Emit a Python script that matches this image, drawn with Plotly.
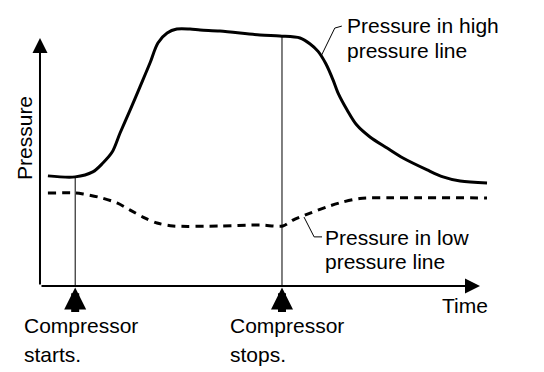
import plotly.graph_objects as go

# Time axis: 0..100 (arbitrary units), Pressure axis: 0..100 (arbitrary units)
t_high = [1.8, 8.0, 12.0, 14.3, 16.4, 18.2, 20.5, 22.7, 25.0, 26.8, 28.9, 31.1, 34.1,
          36.4, 40.9, 50.0, 54.5, 59.1, 61.4, 63.2, 65.0, 66.6, 67.7, 69.8, 72.0, 75.0,
          78.9, 82.5, 88.0, 91.6, 95.5, 101.6]
p_high = [44.4, 44.0, 46.0, 49.6, 54.0, 61.7, 71.0, 80.2, 89.9, 98.0, 102.0, 103.6, 103.6,
          103.2, 102.8, 101.2, 100.8, 100.0, 97.6, 94.6, 89.5, 83.1, 78.0, 71.0, 64.9, 60.1,
          55.6, 51.6, 46.8, 44.0, 42.3, 41.5]

t_low = [1.8, 8.0, 9.8, 13.2, 17.5, 20.5, 23.4, 26.6, 30.2, 40.9, 50.0, 55.2, 57.5, 61.4,
         65.2, 68.9, 72.7, 80.0, 101.6]
p_low = [37.5, 37.5, 37.1, 35.9, 33.5, 30.6, 27.8, 25.4, 24.2, 24.2, 24.6, 24.2, 26.6, 29.4,
         31.9, 33.9, 35.3, 35.6, 35.5]

# Compressor events
event_times = [8.0, 55.0]
event_tops = [44.0, 101.2]
event_labels = [["Compressor", "starts."], ["Compressor", "stops."]]

# Callout leader lines
lead_high_t = [64.0, 67.0, 68.6]
lead_high_p = [93.1, 104.0, 104.8]
lead_low_t = [60.0, 62.3, 64.1]
lead_low_p = [27.8, 19.8, 19.8]
label_high = ["Pressure in high", "pressure line"]
label_low = ["Pressure in low", "pressure line"]

axis_title_x = "Time"
axis_title_y = "Pressure"

FONT = dict(family="Liberation Sans, Arial, sans-serif", size=21, color="black")

fig = go.Figure()

fig.add_trace(go.Scatter(x=t_high, y=p_high, mode="lines",
                         line=dict(color="black", width=3, shape="spline", smoothing=0.9),
                         hoverinfo="skip"))
fig.add_trace(go.Scatter(x=t_low, y=p_low, mode="lines",
                         line=dict(color="black", width=3, shape="spline", smoothing=0.8,
                                   dash="8px,6px"),
                         hoverinfo="skip"))

for tx, top in zip(event_times, event_tops):
    fig.add_trace(go.Scatter(x=[tx, tx], y=[0, top], mode="lines",
                             line=dict(color="black", width=1), hoverinfo="skip"))

fig.add_trace(go.Scatter(x=lead_high_t, y=lead_high_p, mode="lines",
                         line=dict(color="black", width=1), hoverinfo="skip"))
fig.add_trace(go.Scatter(x=lead_low_t, y=lead_low_p, mode="lines",
                         line=dict(color="black", width=1), hoverinfo="skip"))

annotations = []
# axes with arrowheads
annotations.append(dict(x=0, y=100, ax=0, ay=0, xref="x", yref="y", axref="x", ayref="y",
                        text="", showarrow=True, arrowhead=2, arrowwidth=2, arrowsize=1.5,
                        arrowcolor="black", standoff=0))
annotations.append(dict(x=100, y=0, ax=0, ay=0, xref="x", yref="y", axref="x", ayref="y",
                        text="", showarrow=True, arrowhead=2, arrowwidth=2, arrowsize=1.5,
                        arrowcolor="black", standoff=0))
# compressor arrows under the axis: head + shaft
for tx in event_times:
    annotations.append(dict(x=tx, y=-0.6, ax=0, ay=16, xref="x", yref="y",
                            text="", showarrow=True, arrowhead=2, arrowwidth=8,
                            arrowsize=0.55, arrowcolor="black", standoff=0))
    annotations.append(dict(x=tx, y=-5.0, ax=0, ay=15, xref="x", yref="y",
                            text="", showarrow=True, arrowhead=0, arrowwidth=8,
                            arrowcolor="black", standoff=0))

label_x = [-4.1, 42.7]
for lx, lines in zip(label_x, event_labels):
    annotations.append(dict(x=lx, y=-15.9, xref="x", yref="y", text=lines[0],
                            showarrow=False, xanchor="left", yanchor="middle", font=FONT))
    annotations.append(dict(x=lx, y=-27.6, xref="x", yref="y", text=lines[1],
                            showarrow=False, xanchor="left", yanchor="middle", font=FONT))

annotations.append(dict(x=91.0, y=-7.9, xref="x", yref="y", text=axis_title_x,
                        showarrow=False, xanchor="left", yanchor="middle", font=FONT))
annotations.append(dict(x=-3.4, y=59.7, xref="x", yref="y", text=axis_title_y, textangle=-90,
                        showarrow=False, xanchor="center", yanchor="middle", font=FONT))

annotations.append(dict(x=69.3, y=105.2, xref="x", yref="y", text=label_high[0],
                        showarrow=False, xanchor="left", yanchor="middle", font=FONT))
annotations.append(dict(x=69.3, y=95.0, xref="x", yref="y", text=label_high[1],
                        showarrow=False, xanchor="left", yanchor="middle", font=FONT))
annotations.append(dict(x=64.3, y=19.6, xref="x", yref="y", text=label_low[0],
                        showarrow=False, xanchor="left", yanchor="middle", font=FONT))
annotations.append(dict(x=64.3, y=9.9, xref="x", yref="y", text=label_low[1],
                        showarrow=False, xanchor="left", yanchor="middle", font=FONT))

fig.update_layout(
    width=544, height=372,
    margin=dict(l=0, r=0, t=0, b=0),
    paper_bgcolor="white", plot_bgcolor="white",
    showlegend=False,
    xaxis=dict(range=[-9.09, 114.55], visible=False, fixedrange=True),
    yaxis=dict(range=[-34.68, 115.32], visible=False, fixedrange=True),
    annotations=annotations,
)

fig.write_html("out.html", config={"displayModeBar": False},
               post_script="document.body.style.margin='0';document.body.style.overflow='hidden';")
